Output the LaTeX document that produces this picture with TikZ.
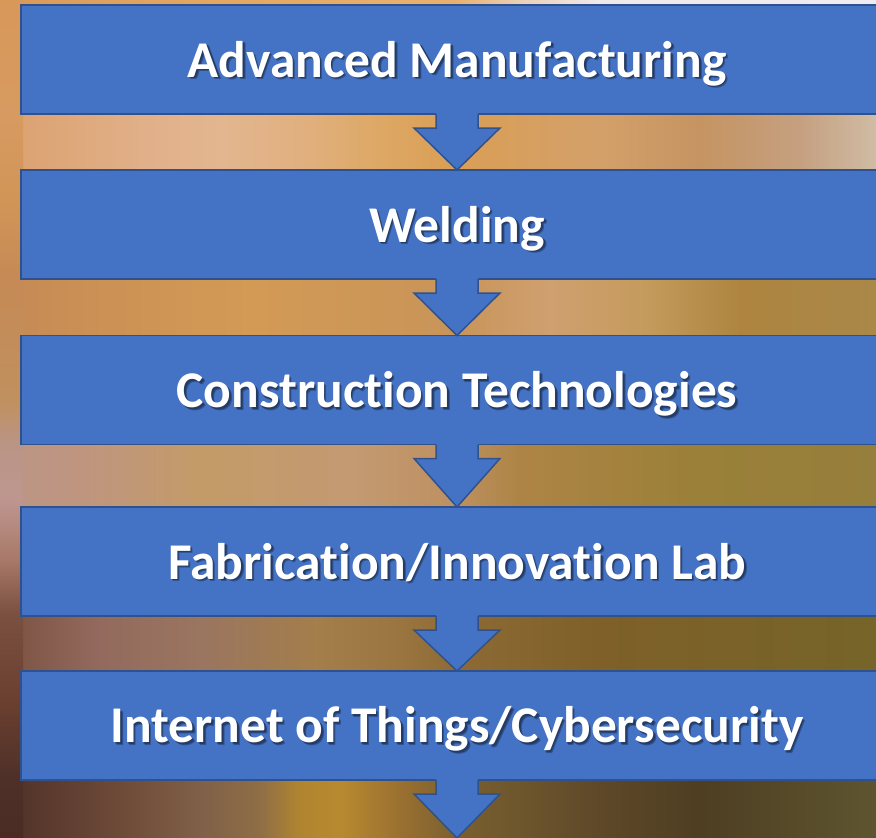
\documentclass[tikz,border=0pt]{standalone}
\usepackage{fontspec}
\setmainfont{Carlito}[Ligatures={NoCommon}]
\definecolor{boxblue}{HTML}{4472C4}
\definecolor{boxedge}{HTML}{2F528F}
\newcommand\bgseg[6]{\shade[left color=#5,right color=#6] (#1,#3) rectangle (#2,#4);}
\newcommand\vseg[4]{\shade[top color=#3,bottom color=#4] (-1,#1) rectangle (23,#2);}
\newcommand\flowarr[2]{%
  \fill[boxblue] ([xshift=-21pt,yshift=3pt]#1.south) -- ([xshift=-21pt,yshift=-14pt]#1.south) -- ([xshift=-43pt,yshift=-14pt]#1.south) -- (#2) -- ([xshift=43pt,yshift=-14pt]#1.south) -- ([xshift=21pt,yshift=-14pt]#1.south) -- ([xshift=21pt,yshift=3pt]#1.south) -- cycle;
  \draw[arredge] ([xshift=-21pt]#1.south) -- ([xshift=-21pt,yshift=-14pt]#1.south) -- ([xshift=-43pt,yshift=-14pt]#1.south) -- (#2) -- ([xshift=43pt,yshift=-14pt]#1.south) -- ([xshift=21pt,yshift=-14pt]#1.south) -- ([xshift=21pt]#1.south);}
\newcommand\boxlabel[3]{%
  \node[shd] at ([xshift=1.5pt,yshift=-1.5pt]#1) {#3};
  \node[shd] at ([xshift=2.5pt,yshift=-2.5pt]#1) {#3};
  \node[lbl] (#2) at (#1) {#3};}
\tikzset{
  box/.style={draw=boxedge, line width=1.5pt, fill=boxblue, minimum width=872pt, minimum height=109pt, inner sep=0pt, outer sep=0pt},
  lbl/.style={text=white, font=\bfseries\fontsize{51.5}{60}\selectfont, anchor=base, inner sep=0pt},
  shd/.style={text=black, opacity=0.28, font=\bfseries\fontsize{51.5}{60}\selectfont, anchor=base, inner sep=0pt},
  arredge/.style={draw=boxedge, line width=1.5pt, line join=miter}
}
\begin{document}
\begin{tikzpicture}[x=1pt,y=-1pt]
\useasboundingbox (0,0) rectangle (876,838);
\clip (0,0) rectangle (876,838);
% ---------- background ----------
\foreach \xa/\xb/\ca/\cb in {0/150/D8985A/E0A460,150/300/E0A460/E6AA65,300/456/E6AA65/E8B070,456/520/E8B070/EAD0B8,520/600/EAD0B8/EFEAEA,600/877/EFEAEA/EEECF0}
  {\definecolor{ca}{HTML}{\ca}\definecolor{cb}{HTML}{\cb}\bgseg{\xa}{\xb}{-1}{10}{ca}{cb}}
\foreach \xa/\xb/\ca/\cb in {0/22/D79A60/DCA372,22/150/DCA372/E1B08A,150/220/E1B08A/E3B690,220/300/E3B690/E1B080,300/380/E1B080/DDA865,380/456/DDA865/DA9E55,456/600/DA9E55/D4A06A,600/700/D4A06A/C59462,700/800/C59462/C5A080,800/877/C5A080/D0BCA5}
  {\definecolor{ca}{HTML}{\ca}\definecolor{cb}{HTML}{\cb}\bgseg{\xa}{\xb}{105}{175}{ca}{cb}}
\foreach \xa/\xb/\ca/\cb in {0/150/C58A55/CE9455,150/250/CE9455/D29A55,250/456/D29A55/C89458,456/550/C89458/CFA070,550/650/CFA070/C49A5C,650/740/C49A5C/AE8440,740/877/AE8440/A98848}
  {\definecolor{ca}{HTML}{\ca}\definecolor{cb}{HTML}{\cb}\bgseg{\xa}{\xb}{270}{340}{ca}{cb}}
\foreach \xa/\xb/\ca/\cb in {0/80/BA9585/BF9580,80/200/BF9580/C39B68,200/350/C39B68/C39A72,350/456/C39A72/BE9060,456/520/BE9060/AE8445,520/700/AE8445/9A8038,700/877/9A8038/967E3C}
  {\definecolor{ca}{HTML}{\ca}\definecolor{cb}{HTML}{\cb}\bgseg{\xa}{\xb}{435}{512}{ca}{cb}}
\foreach \xa/\xb/\ca/\cb in {0/100/7A5040/936A5D,100/200/936A5D/9A7560,200/320/9A7560/A47E4A,320/400/A47E4A/9A7540,400/456/9A7540/8E6A35,456/600/8E6A35/7E6028,600/877/7E6028/766428}
  {\definecolor{ca}{HTML}{\ca}\definecolor{cb}{HTML}{\cb}\bgseg{\xa}{\xb}{606}{676}{ca}{cb}}
\foreach \xa/\xb/\ca/\cb in {0/120/4E3028/6E4A38,120/200/6E4A38/806048,200/260/806048/8F6E45,260/300/8F6E45/B08530,300/340/B08530/B88A30,340/400/B88A30/9A7030,400/456/9A7030/7A6030,456/600/7A6030/5E4828,600/700/5E4828/4E3E22,700/877/4E3E22/5E5530}
  {\definecolor{ca}{HTML}{\ca}\definecolor{cb}{HTML}{\cb}\bgseg{\xa}{\xb}{770}{839}{ca}{cb}}
\foreach \ya/\yb/\ca/\cb in {0/114/D8985A/D79A60,114/200/D79A60/D29558,200/279/D29558/C58A55,279/400/C58A55/C0905E,400/443/C0905E/BA9585,443/500/BA9585/BE9690,500/560/BE9690/A87868,560/614/A87868/7A5040,614/700/7A5040/6B4030,700/778/6B4030/4E3028,778/839/4E3028/4A2C24}
  {\definecolor{ca}{HTML}{\ca}\definecolor{cb}{HTML}{\cb}\vseg{\ya}{\yb}{ca}{cb}}
% ---------- boxes ----------
\node[box] (b1) at (457,59.5) {};
\node[box] (b2) at (457,224.5) {};
\node[box] (b3) at (457,390) {};
\node[box] (b4) at (457,561.5) {};
\node[box] (b5) at (457,725.5) {};
\coordinate (end) at (457,838);
% ---------- arrows ----------
\flowarr{b1}{b2.north}
\flowarr{b2}{b3.north}
\flowarr{b3}{b4.north}
\flowarr{b4}{b5.north}
\flowarr{b5}{end}
% ---------- labels ----------
\boxlabel{457,77}{t1}{Advanced Manufacturing}
\boxlabel{457,242}{t2}{Welding}
\boxlabel{457,407.5}{t3}{Construction Technologies}
\boxlabel{457,579}{t4}{Fabrication/Innovation Lab}
\boxlabel{457,742.5}{t5}{Internet of Things/Cybersecurity}
\end{tikzpicture}
\end{document}
